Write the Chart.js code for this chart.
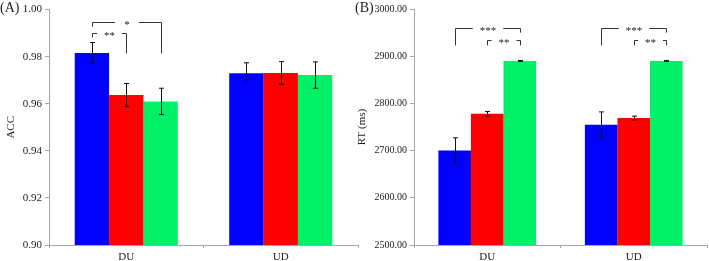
<!DOCTYPE html>
<html>
<head>
<meta charset="utf-8">
<script src="https://cdn.jsdelivr.net/npm/chart.js@4.4.0/dist/chart.umd.min.js"></script>
<style>
  html, body { margin: 0; padding: 0; background: #fff; }
  #wrap { position: relative; width: 709px; height: 261px; }
  .panel { position: absolute; top: 0; height: 261px; }
  #panelA { left: 0; width: 360px; }
  #panelB { left: 355px; width: 354px; }
</style>
</head>
<body>
<div id="wrap">
  <div class="panel" id="panelA"><canvas id="chartA"></canvas></div>
  <div class="panel" id="panelB"><canvas id="chartB"></canvas></div>
</div>
<script>
// categories
const categories = ['DU', 'UD'];

// (A) accuracy, means and error
const accBlue = [0.9816, 0.9730];
const accRed = [0.9637, 0.9731];
const accGreen = [0.9610, 0.9722];
const accErrBlue = [0.0044, 0.0044];
const accErrRed = [0.0049, 0.0048];
const accErrGreen = [0.0056, 0.0056];

// (B) reaction time in ms
const rtBlue = [2700, 2755];
const rtRed = [2778, 2769];
const rtGreen = [2890, 2890];
const rtErrBlue = [27, 27];
const rtErrRed = [5, 4];
const rtErrGreen = [1, 1];

// significance brackets: category, from bar, to bar, line value, leg ends, label
const accBrackets = [
  { cat: 0, from: 0, to: 2, y: 0.9949, leftEnd: 0.9928, rightEnd: 0.9814, text: '*' },
  { cat: 0, from: 0, to: 1, y: 0.9899, leftEnd: 0.9882, rightEnd: 0.9814, text: '**' }
];
const rtBrackets = [
  { cat: 0, from: 0, to: 2, y: 2959, leftEnd: 2923, rightEnd: 2950, text: '***' },
  { cat: 0, from: 1, to: 2, y: 2934, leftEnd: 2923, rightEnd: 2923, text: '**' },
  { cat: 1, from: 0, to: 2, y: 2959, leftEnd: 2923, rightEnd: 2950, text: '***' },
  { cat: 1, from: 1, to: 2, y: 2934, leftEnd: 2923, rightEnd: 2923, text: '**' }
];

const serif = "'Liberation Serif', 'Times New Roman', serif";
const axisGray = '#a6a6a6';
const textCol = '#222';

// error bars + brackets + panel letter
const extras = {
  id: 'extras',
  afterDatasetsDraw(chart, args, opts) {
    const ctx = chart.ctx;
    const y = chart.scales.y;
    ctx.save();
    ctx.strokeStyle = '#111';
    ctx.lineWidth = 1;
    chart.data.datasets.forEach((ds, i) => {
      const meta = chart.getDatasetMeta(i);
      meta.data.forEach((bar, j) => {
        const e = ds.err[j];
        const v = ds.data[j];
        const x = Math.round(bar.x) + 0.5;
        const top = y.getPixelForValue(v + e);
        const bot = y.getPixelForValue(v - e);
        ctx.beginPath();
        ctx.moveTo(x, top); ctx.lineTo(x, bot);
        ctx.moveTo(x - 2.5, top); ctx.lineTo(x + 2.5, top);
        ctx.moveTo(x - 2.5, bot); ctx.lineTo(x + 2.5, bot);
        ctx.stroke();
      });
    });

    ctx.font = '11px ' + serif;
    ctx.fillStyle = textCol;
    ctx.strokeStyle = '#333';
    ctx.textAlign = 'center';
    ctx.textBaseline = 'alphabetic';
    (opts.brackets || []).forEach(b => {
      const x1 = Math.round(chart.getDatasetMeta(b.from).data[b.cat].x) + 0.5;
      const x2 = Math.round(chart.getDatasetMeta(b.to).data[b.cat].x) + 0.5;
      const yy = Math.round(y.getPixelForValue(b.y)) + 0.5;
      const mid = (x1 + x2) / 2;
      const gap = Math.max(24, ctx.measureText(b.text).width + 14) / 2;
      ctx.beginPath();
      ctx.moveTo(x1, y.getPixelForValue(b.leftEnd));
      ctx.lineTo(x1, yy);
      ctx.lineTo(mid - gap, yy);
      ctx.moveTo(mid + gap, yy);
      ctx.lineTo(x2, yy);
      ctx.lineTo(x2, y.getPixelForValue(b.rightEnd));
      ctx.stroke();
      ctx.fillText(b.text, mid, yy + 5);
    });

    ctx.font = '14px ' + serif;
    ctx.textAlign = 'left';
    ctx.textBaseline = 'middle';
    ctx.fillText(opts.letter, opts.letterX, 8);
    ctx.restore();
  }
};

function makeChart(id, series, errs, yOpts, letter, letterX, brackets, yWidth, title, titlePad, tickSize) {
  const colors = ['#0000ff', '#ff0000', '#00f068'];
  return new Chart(document.getElementById(id), {
    type: 'bar',
    data: {
      labels: categories,
      datasets: series.map((s, i) => ({
        data: s,
        err: errs[i],
        backgroundColor: colors[i],
        borderWidth: 0,
        categoryPercentage: 0.667,
        barPercentage: 1.0
      }))
    },
    options: {
      responsive: true,
      maintainAspectRatio: false,
      animation: false,
      layout: { padding: { top: 8, right: 2, bottom: 0, left: 0 } },
      plugins: {
        legend: { display: false },
        tooltip: { enabled: false },
        extras: { letter: letter, letterX: letterX, brackets: brackets }
      },
      scales: {
        x: {
          grid: { display: true, drawOnChartArea: false, color: axisGray, tickLength: 3 },
          border: { color: axisGray },
          ticks: { color: textCol, font: { family: serif, size: 11 }, padding: 3 },
          afterFit(scale) { scale.height = 16; }
        },
        y: {
          min: yOpts.min,
          max: yOpts.max,
          grid: { display: true, drawOnChartArea: false, color: axisGray, tickLength: 4 },
          border: { color: axisGray },
          ticks: {
            stepSize: yOpts.step,
            color: textCol,
            padding: 3,
            font: { family: serif, size: tickSize },
            callback: v => Number(v).toFixed(2)
          },
          title: { display: true, text: title, color: textCol, font: { family: serif, size: 11 }, padding: { top: titlePad } },
          afterFit(scale) { scale.width = yWidth; }
        }
      }
    },
    plugins: [extras]
  });
}

makeChart('chartA', [accBlue, accRed, accGreen], [accErrBlue, accErrRed, accErrGreen],
  { min: 0.90, max: 1.00, step: 0.02 }, '(A)', 0, accBrackets, 49, 'ACC', 5, 11);
makeChart('chartB', [rtBlue, rtRed, rtGreen], [rtErrBlue, rtErrRed, rtErrGreen],
  { min: 2500, max: 3000, step: 100 }, '(B)', 0, rtBrackets, 59, 'RT (ms)', 1, 10);
</script>
</body>
</html>
